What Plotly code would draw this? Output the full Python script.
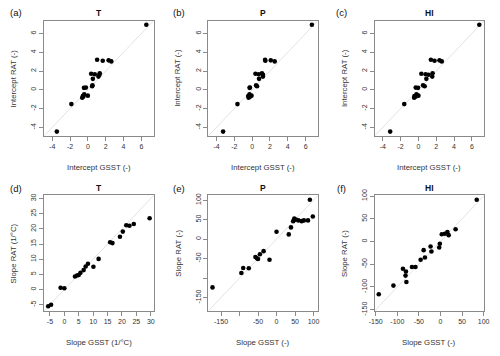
import plotly.graph_objects as go
from plotly.subplots import make_subplots

# top row: intercepts, RAT (y) against GSST (x) for T, P and HI
int_rat = [6.93, -4.45, -1.52, -0.66, -0.85, -0.72, -0.48, -0.62, 0.21, 0.24, 0.38,
           0.48, 1.17, 1.72, 1.66, 1.41, 1.76, 1.60, 3.21, 3.10, 3.14, 3.03]
int_gsst_t = [6.56, -3.48, -1.85, -0.56, -0.63, -0.50, -0.41, 0.00, -0.44, -0.22, 0.48,
              0.52, 0.56, 0.37, 0.78, 1.19, 1.33, 1.30, 1.04, 1.67, 2.33, 2.63]
int_gsst_p = [6.70, -3.26, -1.65, -0.44, -0.40, -0.22, -0.30, -0.07, -0.29, -0.25, 0.55,
              0.44, 0.77, 0.37, 0.73, 1.21, 1.10, 1.21, 1.45, 1.48, 2.09, 2.53]
int_gsst_hi = [6.83, -3.17, -1.59, -0.45, -0.48, -0.30, -0.22, 0.00, -0.04, -0.30, 0.70,
               0.52, 0.89, 0.33, 0.81, 1.55, 1.59, 1.14, 1.40, 1.81, 2.36, 2.62]

# bottom row: slopes
slope_gsst_t = [-5.6, -4.6, -1.3, 0.0, 3.7, 4.4, 5.0, 5.6, 6.7, 7.4, 8.2,
                10.1, 11.9, 15.9, 16.7, 19.3, 20.3, 21.5, 22.6, 24.1, 29.6]
slope_rat_t = [-5.5, -5.0, 0.6, 0.4, 4.3, 4.6, 4.8, 5.5, 6.4, 7.6, 8.5,
               7.5, 10.1, 15.6, 15.3, 17.4, 19.1, 21.2, 21.0, 21.6, 23.5]
slope_gsst_p = [-173, -95, -90, -75, -57, -53, -50, -45, -35, -19, 0,
                33, 39, 45, 48, 52, 59, 68, 74, 85, 90, 98]
slope_rat_p = [-124, -87, -74, -75, -46, -49, -51, -39, -31, -53, 19,
               12, 30, 46, 53, 50, 48, 46, 48, 48, 101, 58]
slope_gsst_hi = [84, -143, -109, -87, -80, -81, -79, -66, -58, -46, -36,
                 -39, -23, -21, -3, -1.5, 3, 10, 16, 19, 35]
slope_rat_hi = [92, -116, -97, -60, -66, -75, -89, -56, -56, -40, -35,
                -19, -11, -22, -13, -5, 16, 17, 21, 14, 27]

letters = ["(a)", "(b)", "(c)", "(d)", "(e)", "(f)"]
titles = ["T", "P", "HI", "T", "P", "HI"]
xtitles = ["Intercept GSST (-)"] * 3 + ["Slope GSST (1/\u00b0C)", "Slope GSST (-)", "Slope GSST (-)"]
ytitles = ["Intercept RAT (-)"] * 3 + ["Slope RAT (1/\u00b0C)", "Slope RAT (-)", "Slope RAT (-)"]

int_ticks = [-4, -2, 0, 2, 4, 6]
t_ticks = [-5, 0, 5, 10, 15, 20, 25, 30]
ph_ticks = [-150, -100, -50, 0, 50, 100]
p_ticktext = ["-150", "", "-50", "0", "50", "100"]

panels = [
    (int_gsst_t, int_rat, int_ticks, None),
    (int_gsst_p, int_rat, int_ticks, None),
    (int_gsst_hi, int_rat, int_ticks, None),
    (slope_gsst_t, slope_rat_t, t_ticks, None),
    (slope_gsst_p, slope_rat_p, ph_ticks, p_ticktext),
    (slope_gsst_hi, slope_rat_hi, ph_ticks, None),
]

W, H = 500, 356
col_left = [39, 207, 377]
box_w = 112
row_top = [15, 195.5]
box_h = 119

fig = make_subplots(rows=2, cols=3)
font = "Liberation Sans, Arial, sans-serif"
annotations = []

for i, (xs, ys, ticks, ticktext) in enumerate(panels):
    r, c = divmod(i, 3)
    x0, x1 = col_left[c], col_left[c] + box_w
    y0, y1 = row_top[r], row_top[r] + box_h
    both = list(xs) + list(ys)
    lo, hi = min(both), max(both)
    pad = 0.04 * (hi - lo)
    lim = [lo - pad, hi + pad]

    # 1:1 reference line across the panel
    fig.add_shape(type="line", x0=lim[0], y0=lim[0], x1=lim[1], y1=lim[1],
                  line=dict(color="#e2e2e2", width=1), layer="below",
                  row=r + 1, col=c + 1)
    fig.add_trace(go.Scatter(x=xs, y=ys, mode="markers",
                             marker=dict(color="black", size=4.6),
                             showlegend=False), row=r + 1, col=c + 1)

    axis = dict(range=lim, tickvals=ticks, ticktext=ticktext or [str(t) for t in ticks],
                showgrid=False, zeroline=False, showline=True, mirror=True,
                linecolor="#8a8a8a", linewidth=1, ticks="outside", ticklen=4,
                tickcolor="#8a8a8a", tickfont=dict(family=font, size=7, color="#333"))
    fig.update_xaxes(domain=[x0 / W, x1 / W], **axis, row=r + 1, col=c + 1)
    fig.update_yaxes(domain=[1 - y1 / H, 1 - y0 / H], tickangle=-90, **axis,
                     row=r + 1, col=c + 1)

    cx = (x0 + x1) / 2
    cy = (y0 + y1) / 2
    base = 181 * r
    annotations += [
        dict(text="<b>%s</b>" % titles[i], x=cx / W, y=1 - (7 + base) / H,
             font=dict(size=8.5, color="#111")),
        dict(text=letters[i], x=(c * 166.5 + 10) / W, y=1 - (7 + base) / H,
             font=dict(size=9.5, color="#111")),
        dict(text=xtitles[i], x=cx / W, y=1 - (y1 + 33) / H,
             font=dict(size=7.8, color="#333")),
        dict(text=ytitles[i], x=(x0 - 31.5) / W, y=1 - cy / H, textangle=-90,
             font=dict(size=7.8, color="#333")),
    ]

for a in annotations:
    a.update(xref="paper", yref="paper", showarrow=False,
             xanchor="center", yanchor="middle")
    a["font"]["family"] = font

fig.update_layout(width=W, height=H, margin=dict(l=0, r=0, t=0, b=0),
                  plot_bgcolor="white", paper_bgcolor="white",
                  annotations=annotations)

fig.write_html("out.html", config={"displayModeBar": False},
               post_script="document.body.style.margin='0px';")
